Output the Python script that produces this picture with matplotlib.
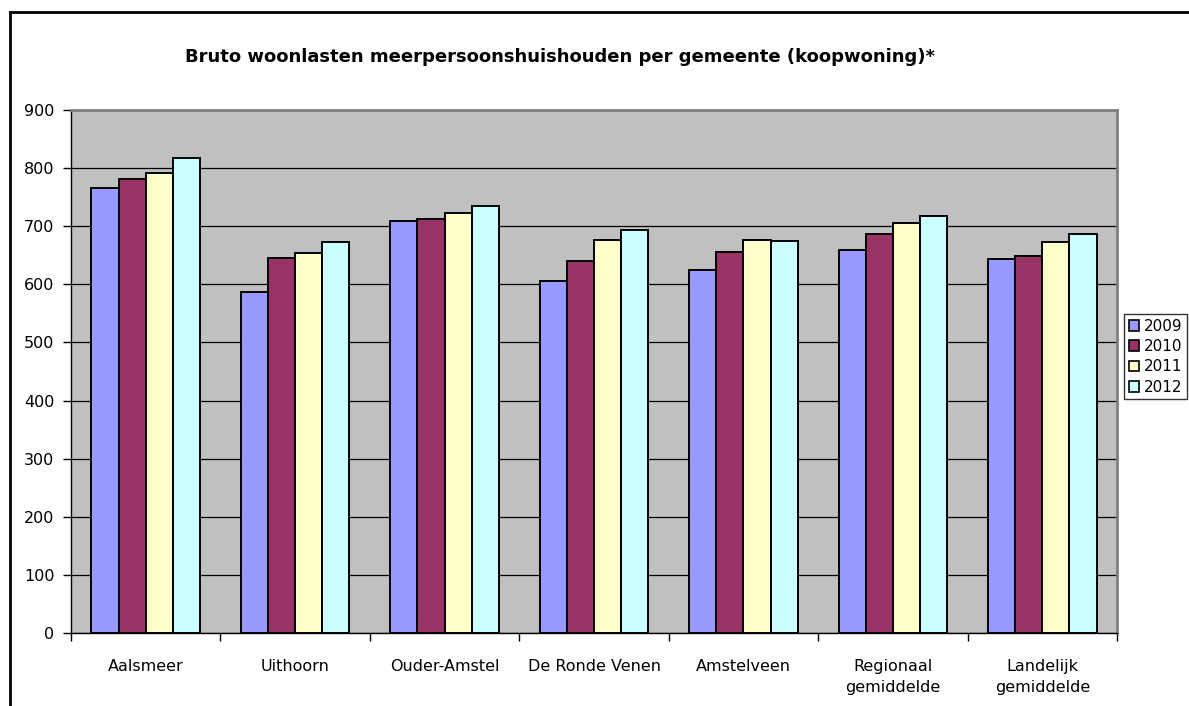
import matplotlib
matplotlib.use("Agg")
import matplotlib.pyplot as plt
import numpy as np

# gemeenten en jaren
gemeenten = ["Aalsmeer", "Uithoorn", "Ouder-Amstel", "De Ronde Venen",
             "Amstelveen", "Regionaal\ngemiddelde", "Landelijk\ngemiddelde"]
jaren = ["2009", "2010", "2011", "2012"]

w2009 = [765, 587, 709, 606, 624, 659, 643]
w2010 = [781, 646, 712, 641, 656, 686, 649]
w2011 = [792, 654, 723, 677, 677, 705, 672]
w2012 = [818, 672, 734, 693, 675, 718, 686]
reeksen = [w2009, w2010, w2011, w2012]
kleuren = ["#9999FF", "#993366", "#FFFFCC", "#CCFFFF"]

plt.rcParams['font.family'] = ['DejaVu Sans']

fig = plt.figure(figsize=(11.89, 7.06), dpi=100)
W, H = 1189, 706
ax = fig.add_axes([71 / W, 1 - 633 / H, (1117 - 71) / W, (633 - 110) / H])
ax.set_facecolor("#C0C0C0")

x = np.arange(len(gemeenten))
breedte = 1 / 5.5
for j, (vals, kl, jr) in enumerate(zip(reeksen, kleuren, jaren)):
    ax.bar(x + (j - 1.5) * breedte, vals, breedte, color=kl,
           edgecolor="black", linewidth=1.4, label=jr, zorder=3)

ax.set_xlim(-0.5, len(gemeenten) - 0.5)
ax.set_ylim(0, 900)
ax.set_yticks(range(0, 901, 100))
ax.yaxis.grid(True, color="black", linewidth=0.9, zorder=1)
ax.set_axisbelow(True)

ax.set_xticks(x)
ax.set_xticklabels(gemeenten, fontsize=11.5, linespacing=1.45)
ax.set_xticks(np.arange(-0.5, len(gemeenten)), minor=True)
ax.tick_params(axis="x", which="major", length=0, pad=19)
ax.tick_params(axis="x", which="minor", length=6, width=1, direction="out")
ax.tick_params(axis="y", length=6, width=1, labelsize=11.5, pad=6)

for s in ["top", "right"]:
    ax.spines[s].set_color("#808080")
    ax.spines[s].set_linewidth(2)
for s in ["left", "bottom"]:
    ax.spines[s].set_color("black")
    ax.spines[s].set_linewidth(1)

fig.text(560 / W, 1 - 57 / H,
         "Bruto woonlasten meerpersoonshuishouden per gemeente (koopwoning)*",
         ha="center", va="center", fontsize=13, fontweight="bold")

# legenda net binnen de rechterrand
leg = ax.legend(loc="upper left", bbox_to_anchor=(1124 / W, 1 - 314 / H),
                bbox_transform=fig.transFigure, borderaxespad=0,
                frameon=True, fancybox=False, fontsize=11,
                handlelength=0.7, handleheight=0.7, handletextpad=0.3,
                labelspacing=0.35, borderpad=0.3)
leg.get_frame().set_edgecolor("black")
leg.get_frame().set_linewidth(1)
for h in leg.legend_handles:
    h.set_linewidth(1.2)

# rand om de grafiek
fig.add_artist(plt.Line2D([10 / W, 10 / W], [0, 1 - 12 / H], color="black",
                          linewidth=2, transform=fig.transFigure))
fig.add_artist(plt.Line2D([10 / W, 1], [1 - 12 / H, 1 - 12 / H], color="black",
                          linewidth=2, transform=fig.transFigure))

fig.savefig("out.png", dpi=100)
